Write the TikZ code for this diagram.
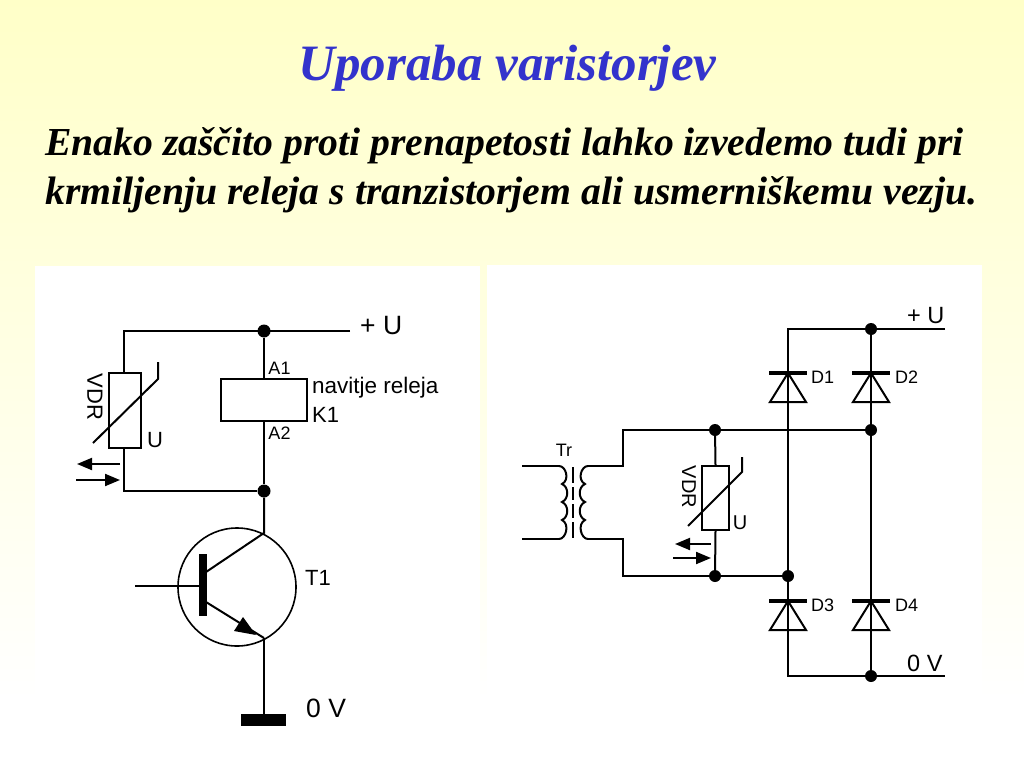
\documentclass[tikz,border=0pt]{standalone}
\usepackage{fontspec}
\setmainfont{Liberation Serif}
\setsansfont{Liberation Sans}
\usetikzlibrary{arrows.meta}
\definecolor{paleY}{RGB}{255,255,200}
\definecolor{titleB}{RGB}{51,51,204}
\tikzset{
 wire/.style={draw=black,line width=2pt},
 thin wire/.style={draw=black,line width=1.6pt},
 dot/.style={circle,fill=black,inner sep=0pt,minimum size=13pt},
 smalldot/.style={circle,fill=black,inner sep=0pt,minimum size=12pt},
 lab/.style={font=\sffamily\fontsize{18}{20}\selectfont,inner sep=0pt,text=black},
 bigl/.style={font=\sffamily\fontsize{26.5}{28}\selectfont,inner sep=0pt,text=black},
 midl/.style={font=\sffamily\fontsize{22}{24}\selectfont,inner sep=0pt,text=black},
 rlab/.style={font=\sffamily\fontsize{18}{20}\selectfont,inner sep=0pt,text=black},
 rvl/.style={font=\sffamily\fontsize{20}{22}\selectfont,inner sep=0pt,text=black},
 rbig/.style={font=\sffamily\fontsize{23.5}{26}\selectfont,inner sep=0pt,text=black},
 partbox/.style={draw=black,line width=2pt,fill=none,inner sep=0pt},
 flow/.style={draw=black,line width=2pt,-{Triangle[length=15pt,width=12pt]}},
 bar/.style={draw=none,fill=black},
}
\newcommand{\diode}[3]{% name, x, bar y
 \coordinate (#1bar) at (#2,#3);
 \draw[line width=3.5pt] (#2-19,#3) -- (#2+19,#3);
 \draw[line width=2pt,line join=miter] (#2,#3) -- (#2-18,#3+29) -- (#2+18,#3+29) -- cycle;
}
\begin{document}
\begin{tikzpicture}[x=1pt,y=-1pt]
\useasboundingbox (0,0) rectangle (1024,768);
\shade[top color=paleY,bottom color=white] (0,0) rectangle (1024,700);
\fill[white] (0,700) rectangle (1024,768);
\fill[white] (35,266) rectangle (480,768);
\fill[white] (487,265) rectangle (982,768);

\node[anchor=base,text=titleB,font=\bfseries\itshape\fontsize{51}{53}\selectfont,inner sep=0pt] (title) at (507.5,81) {Uporaba varistorjev};
\node[anchor=base west,font=\bfseries\itshape\fontsize{39.7}{42}\selectfont,inner sep=0pt] (line1) at (45,155) {Enako zaščito proti prenapetosti lahko izvedemo tudi pri};
\node[anchor=base west,font=\bfseries\itshape\fontsize{39.7}{42}\selectfont,inner sep=0pt] (line2) at (45,204) {krmiljenju releja s tranzistorjem ali usmerniškemu vezju.};

%% left circuit
\node[dot] (jtop) at (264,331) {};
\node[dot] (jmid) at (264,491) {};
\coordinate (tl) at (124,331);
\coordinate (tr) at (350,331);
\coordinate (bl) at (124,491);
\node[partbox,minimum width=32pt,minimum height=75pt] (vdrL) at (125,410.5) {};
\node[partbox,minimum width=86pt,minimum height=42pt] (relay) at (264,400) {};
\draw[wire] (tr) -- (tl) -- (tl |- vdrL.north);
\draw[wire] (tl |- vdrL.south) -- (bl) -- (jmid);
\draw[wire] (jtop) -- (relay.north);
\draw[wire] (relay.south) -- (jmid);
\coordinate (sl1) at (93,443); \coordinate (sl2) at (158,379); \coordinate (sl3) at (158,362);
\draw[wire] (sl1) -- (sl2) -- (sl3);
\coordinate (al1) at (120,464); \coordinate (al2) at (77,464);
\coordinate (al3) at (76,480); \coordinate (al4) at (120,480);
\draw[flow] (al1) -- (al2);
\draw[flow] (al3) -- (al4);
\node[bigl,anchor=west] (plusL) at (360,326) {+ U};
\node[lab] (A1) at (279.5,368) {A1};
\node[lab] (A2) at (279.5,433) {A2};
\node[midl,anchor=west,font=\sffamily\fontsize{22.5}{24}\selectfont] (nav) at (312,388) {navitje releja};
\node[midl,anchor=west] (K1) at (312,415) {K1};
\node[midl,rotate=-90] (vdrLt) at (95,397) {VDR};
\node[midl] (uL) at (155,440) {U};

% transistor
\node[draw=black,line width=1.6pt,circle,minimum size=118pt,inner sep=0pt] (T) at (237,587) {};
\coordinate (C) at (264,533);
\coordinate (E) at (264,638);
\coordinate (Bc) at (206,572);
\coordinate (Be) at (206,602);
\coordinate (Bin) at (135,586);
\coordinate (Bb) at (199,586);
\fill[black] (199,554) rectangle (207,616);
\draw[wire] (jmid) -- (C) -- (Bc);
\draw[thin wire] (Bin) -- (Bb);
\draw[wire] (Be) -- (E);
\coordinate (ah1) at (243,617); \coordinate (ah2) at (234,631); \coordinate (ah3) at (256,635);
\fill[black] (ah1) -- (ah2) -- (ah3) -- cycle;
\coordinate (G) at (264,714);
\draw[wire] (E) -- (G);
\node[bar,minimum width=45pt,minimum height=12pt,inner sep=0pt] (gnd) at (263.5,720) {};
\node[midl] (T1) at (318,578) {T1};
\node[bigl,anchor=west] (zeroL) at (306,708) {0 V};

%% right circuit
\node[smalldot] (j1) at (871,329) {};
\node[smalldot] (j2) at (871,430) {};
\node[smalldot] (j3) at (715,430) {};
\node[smalldot] (j4) at (715,576) {};
\node[smalldot] (j5) at (788,576) {};
\node[smalldot] (j6) at (871,676) {};
\coordinate (rt) at (788,329); \coordinate (rte) at (945,329);
\coordinate (rb) at (788,676); \coordinate (rbe) at (945,676);
\draw[wire] (j5) -- (rb) -- (rbe);
\draw[wire] (rte) -- (rt) -- (j5);
\draw[wire] (j1) -- (j6);
\coordinate (w1) at (623,430); \coordinate (w2) at (623,466); \coordinate (w3) at (623,539); \coordinate (w4) at (623,576);
\coordinate (s1) at (588,466); \coordinate (s2) at (588,539);
\coordinate (p1) at (522,466); \coordinate (p2) at (522,539);
\coordinate (q1) at (559,466); \coordinate (q2) at (559,539);
\draw[wire] (j2) -- (w1) -- (w2) -- (s1);
\draw[wire] (s2) -- (w3) -- (w4) -- (j5);
\draw[wire] (p1) -- (q1);
\draw[wire] (p2) -- (q2);
\draw[wire] (q1) .. controls (566,466) and (570,480) .. (562,484)
  .. controls (569,487) and (569,499) .. (562,502)
  .. controls (569,505) and (569,517) .. (562,520)
  .. controls (570,524) and (566,539) .. (q2);
\draw[wire] (s1) .. controls (581,466) and (577,480) .. (585,484)
  .. controls (578,487) and (578,499) .. (585,502)
  .. controls (578,505) and (578,517) .. (585,520)
  .. controls (577,524) and (581,539) .. (s2);
\coordinate (c1) at (573,467); \coordinate (c2) at (573,483);
\coordinate (c3) at (573,487); \coordinate (c4) at (573,500);
\coordinate (c5) at (573,504); \coordinate (c6) at (573,518);
\coordinate (c7) at (573,522); \coordinate (c8) at (573,538);
\draw[thin wire] (c1) -- (c2) (c3) -- (c4) (c5) -- (c6) (c7) -- (c8);
\node[lab] (Tr) at (564,450) {Tr};

\node[partbox,minimum width=27pt,minimum height=64pt] (vdrR) at (715.5,498) {};
\draw[wire] (j3) -- (vdrR.north);
\draw[wire] (vdrR.south) -- (j4);
\coordinate (rs1) at (688,526); \coordinate (rs2) at (742,472); \coordinate (rs3) at (742,457);
\draw[wire] (rs1) -- (rs2) -- (rs3);
\coordinate (ra1) at (711,544); \coordinate (ra2) at (675,544);
\coordinate (ra3) at (673,558); \coordinate (ra4) at (711,558);
\draw[flow] (ra1) -- (ra2);
\draw[flow] (ra3) -- (ra4);
\node[rvl,rotate=-90] (vdrRt) at (689,487) {VDR};
\node[rvl] (uR) at (740,523) {U};

\diode{d1}{788}{373}
\diode{d2}{871}{373}
\diode{d3}{788}{601}
\diode{d4}{871}{601}
\node[rlab,anchor=west] (D1) at (811,377) {D1};
\node[rlab,anchor=west] (D2) at (895,377) {D2};
\node[rlab,anchor=west] (D3) at (811,605) {D3};
\node[rlab,anchor=west] (D4) at (895,605) {D4};
\node[rbig,anchor=west] (plusR) at (907,316) {+ U};
\node[rbig,anchor=west] (zeroR) at (907,663) {0 V};
\end{tikzpicture}
\end{document}
